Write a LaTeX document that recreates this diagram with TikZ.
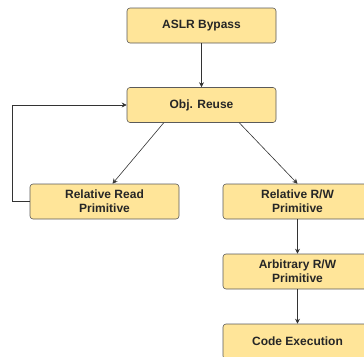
\documentclass[tikz,border=0pt]{standalone}
\usepackage{fontspec}
\setmainfont{Liberation Sans}
\usetikzlibrary{arrows.meta}
\definecolor{boxfill}{HTML}{FFE599}
\definecolor{boxline}{HTML}{5A5A5A}
\definecolor{edgeline}{HTML}{333333}
\tikzset{
  stepbox/.style={draw=boxline, fill=boxfill, rounded corners=3pt,
    minimum width=149pt, minimum height=35pt, align=center,
    font=\bfseries\fontsize{12}{14}\selectfont, text=black!85, line width=0.6pt},
  flow/.style={draw=edgeline, line width=0.6pt, -{Stealth[length=5pt,width=5pt]}}
}

\begin{document}
\begin{tikzpicture}[x=1pt,y=-1pt]
\useasboundingbox (0,0) rectangle (364,356);
\clip (0,0) rectangle (364,356);

% Draw the boxes
\node [stepbox] (bypass)   at (201.5,25.5)  {ASLR Bypass};
\node [stepbox] (reuse)    at (201.5,105)   {Obj. Reuse};
\node [stepbox] (relread)  at (104.5,201.5) {Relative Read\\Primitive};
\node [stepbox] (relrw)    at (297.5,201.5) {Relative R/W\\Primitive};
\node [stepbox] (arbrw)    at (297.5,271.5) {Arbitrary R/W\\Primitive};
\node [stepbox] (codeexec) at (297.5,341.5) {Code Execution};

% Draw the connectors
\coordinate (loop) at (12,201.5);
\draw [flow] ([xshift=37pt]reuse.south west) -- ([xshift=8pt]relread.north);
\draw [flow] ([xshift=-37pt]reuse.south east) -- (relrw.north);
\draw [flow] (bypass) -- (reuse);
\draw [flow] (relread.west) -- (loop) |- (reuse.west);
\draw [flow] (relrw) -- (arbrw);
\draw [flow] (arbrw) -- (codeexec);

\end{tikzpicture}
\end{document}
